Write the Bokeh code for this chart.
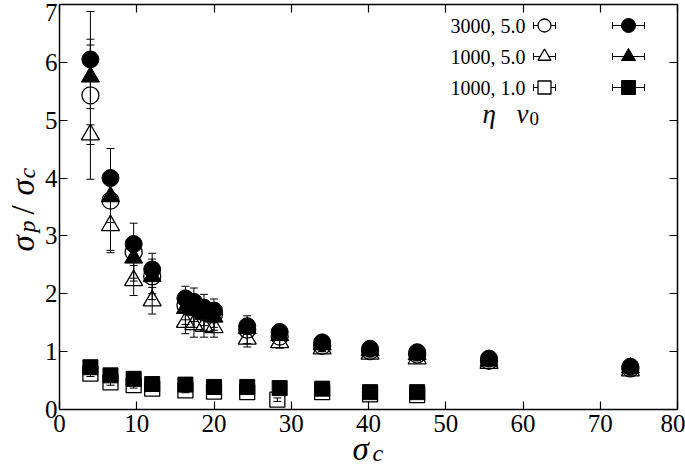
import numpy as np
from bokeh.plotting import figure
from bokeh.models import (Whisker, ColumnDataSource, LinearAxis, Label, Range1d,
                          FixedTicker, TeeHead)
from bokeh.embed import file_html
from bokeh.resources import INLINE

# ---------------- data ----------------
x_sigma = [4.0, 6.6, 9.6, 12.0, 16.3, 17.4, 18.7, 20.0, 24.3, 28.5, 34.0, 40.2, 46.3, 55.6, 73.9]

y_3000_filled = [6.05, 4.00, 2.86, 2.42, 1.92, 1.86, 1.76, 1.71, 1.44, 1.34, 1.16, 1.05, 0.99, 0.88, 0.74]
e_3000_filled = [0.35, 0.13, 0.12, 0.12, 0.10, 0.10, 0.08, 0.08, 0.07, 0.06, 0.05, 0.05, 0.04, 0.04, 0.03]
y_3000_open = [5.43, 3.61, 2.72, 2.30, 1.80, 1.76, 1.68, 1.64, 1.38, 1.26, 1.10, 1.01, 0.95, 0.84, 0.71]
e_3000_open = [1.45, 0.90, 0.50, 0.40, 0.33, 0.34, 0.31, 0.27, 0.24, 0.19, 0.10, 0.08, 0.07, 0.06, 0.05]

y_1000_filled = [5.75, 3.68, 2.62, 2.30, 1.75, 1.72, 1.65, 1.60, 1.40, 1.28, 1.12, 1.02, 0.95, 0.84, 0.72]
e_1000_filled = [0.55, 0.45, 0.35, 0.30, 0.20, 0.20, 0.20, 0.18, 0.10, 0.08, 0.06, 0.05, 0.05, 0.04, 0.04]
y_1000_open = [4.75, 3.18, 2.23, 1.88, 1.51, 1.47, 1.44, 1.42, 1.22, 1.16, 1.05, 0.96, 0.88, 0.80, 0.67]
e_1000_open = [0.17, 0.43, 0.26, 0.23, 0.20, 0.22, 0.19, 0.17, 0.14, 0.10, 0.05, 0.05, 0.04, 0.04, 0.03]

x_sq_filled = [4.0, 6.6, 9.6, 12.0, 16.3, 20.0, 24.3, 28.5, 34.0, 40.2, 46.3]
y_sq_filled = [0.73, 0.59, 0.53, 0.44, 0.43, 0.39, 0.39, 0.37, 0.36, 0.30, 0.30]
e_sq_filled = [0.04, 0.04, 0.04, 0.03, 0.03, 0.03, 0.03, 0.03, 0.03, 0.03, 0.03]
x_sq_open = [4.0, 6.6, 9.6, 12.0, 16.3, 20.0, 24.3, 28.2, 34.0, 40.2, 46.3]
y_sq_open = [0.62, 0.47, 0.42, 0.36, 0.33, 0.31, 0.30, 0.17, 0.30, 0.26, 0.25]
e_sq_open = [0.05, 0.05, 0.05, 0.04, 0.04, 0.04, 0.04, 0.03, 0.04, 0.03, 0.03]

x_ticks = [0, 10, 20, 30, 40, 50, 60, 70, 80]
y_ticks = [0, 1, 2, 3, 4, 5, 6, 7]

legend_labels = ["3000, 5.0", "1000, 5.0", "1000, 1.0"]
legend_markers = ["circle", "triangle", "square"]

# ---------------- layout (pixels of the page) ----------------
W, H = 685, 467
FL, FR, FT, FB = 59, 677, 4, 409  # where the axis box sits on the page
X0, X1, Y0, Y1 = 0.0, 80.0, 0.0, 7.0
FONT = "Liberation Serif"
BL = 9  # correction for alphabetic baseline placement of labels

ppx = (FR - FL) / (X1 - X0)
ppy = (FB - FT) / (Y1 - Y0)


def dx(px):
    return X0 + (px - FL) / ppx


def dy(py):
    return Y0 + (FB - py) / ppy


p = figure(width=W, height=H,
           x_range=Range1d(dx(0), dx(W)), y_range=Range1d(dy(H), dy(0)),
           output_backend="svg", toolbar_location=None,
           x_axis_location=None, y_axis_location=None,
           min_border=0, min_border_left=0, min_border_right=0,
           min_border_top=0, min_border_bottom=0)
p.grid.visible = False
p.outline_line_color = None
p.background_fill_color = "white"
p.border_fill_color = "white"


def make_axis(fixed, ticks, bounds, show_labels, overrides=None):
    ov = {t: "" for t in ticks} if not show_labels else (overrides or {})
    return LinearAxis(fixed_location=fixed, bounds=bounds,
                      ticker=FixedTicker(ticks=ticks), major_label_overrides=ov,
                      major_tick_in=8, major_tick_out=0, minor_tick_line_color=None,
                      axis_line_width=1.5, axis_line_color="black",
                      major_tick_line_width=1.2, major_tick_line_color="black",
                      major_label_text_font=FONT, major_label_text_font_size="25px",
                      major_label_text_color="black")


xb = make_axis(Y0, x_ticks, (X0, X1), True)
xb.major_label_standoff = 5
yl = make_axis(X0, y_ticks, (Y0, Y1), True, overrides={7: ""})
yl.major_label_standoff = 2
xt = make_axis(Y1, x_ticks, (X0, X1), False)
yr = make_axis(X1, y_ticks, (Y0, Y1), False)
p.add_layout(xb, "below")
p.add_layout(yl, "left")
p.add_layout(xt, "above")
p.add_layout(yr, "right")


def label(px, py, text, size, style="normal", align="left", baseline="alphabetic",
          angle=0.0):
    p.add_layout(Label(x=dx(px), y=dy(py), text=text, angle=angle,
                       text_font=FONT, text_font_style=style, text_font_size=size,
                       text_align=align, text_baseline=baseline, text_color="black"))


# the top tick label sits a little lower in the original, inside the page
label(57, 12, "7", "25px", align="right", baseline="middle")


def errbars(x, y, e, head=8, dim="height"):
    src = ColumnDataSource(dict(base=list(x),
                                lower=[a - b for a, b in zip(y, e)],
                                upper=[a + b for a, b in zip(y, e)]))
    w = Whisker(source=src, base="base", lower="lower", upper="upper", dimension=dim,
                line_color="black", line_width=1,
                upper_head=TeeHead(size=head, line_width=1, line_color="black"),
                lower_head=TeeHead(size=head, line_width=1, line_color="black"))
    p.add_layout(w)


# error bars
errbars(x_sigma, y_3000_open, e_3000_open)
errbars(x_sigma, y_1000_open, e_1000_open)
errbars(x_sq_open, y_sq_open, e_sq_open)
errbars(x_sigma, y_3000_filled, e_3000_filled)
errbars(x_sigma, y_1000_filled, e_1000_filled)
errbars(x_sq_filled, y_sq_filled, e_sq_filled)

# open symbols
p.scatter(x_sigma, y_3000_open, marker="circle", size=17, fill_color=None,
          line_color="black", line_width=1.3)
p.scatter(x_sigma, y_1000_open, marker="triangle", size=18, fill_color=None,
          line_color="black", line_width=1.3)
p.scatter(x_sq_open, y_sq_open, marker="square", size=15, fill_color=None,
          line_color="black", line_width=1.3)
# filled symbols
p.scatter(x_sq_filled, y_sq_filled, marker="square", size=15, fill_color="black",
          line_color="black")
p.scatter(x_sigma, y_1000_filled, marker="triangle", size=18, fill_color="black",
          line_color="black")
p.scatter(x_sigma, y_3000_filled, marker="circle", size=17, fill_color="black",
          line_color="black")

# ---------------- key ----------------
rows_py = [25, 56, 87]
for lab, mk, py in zip(legend_labels, legend_markers, rows_py):
    label(525, py, lab, "20px", align="right", baseline="middle")
    yk = dy(py)
    errbars([yk], [dx(544)], [dx(555) - dx(544)], head=7, dim="width")
    errbars([yk], [dx(628)], [dx(644) - dx(628)], head=7, dim="width")
    p.scatter([dx(544)], [yk], marker=mk, size=13, fill_color="white",
              line_color="black", line_width=1.3)
    p.scatter([dx(628)], [yk], marker=mk, size=14, fill_color="black",
              line_color="black")

# eta v0 row
label(482, 122 - BL, "η", "27px", style="italic")
label(516, 122 - BL, "v", "27px", style="italic")
label(529, 127 - BL, "0", "19px")

# ---------------- axis titles ----------------
label(352, 457 - BL, "σ", "33px", style="italic")
label(372, 461 - BL, "c", "24px", style="italic")

ylab = [("σ", 31, 251, "33px", "italic"),
        ("p", 35, 232, "24px", "italic"),
        ("/", 31, 214, "33px", "normal"),
        ("σ", 31, 195, "33px", "italic"),
        ("c", 35, 178, "24px", "italic")]
for t, px, py, fs, st in ylab:
    label(px - BL, py, t, fs, style=st, angle=np.pi / 2)

open("out.html", "w").write(file_html(p, INLINE))
